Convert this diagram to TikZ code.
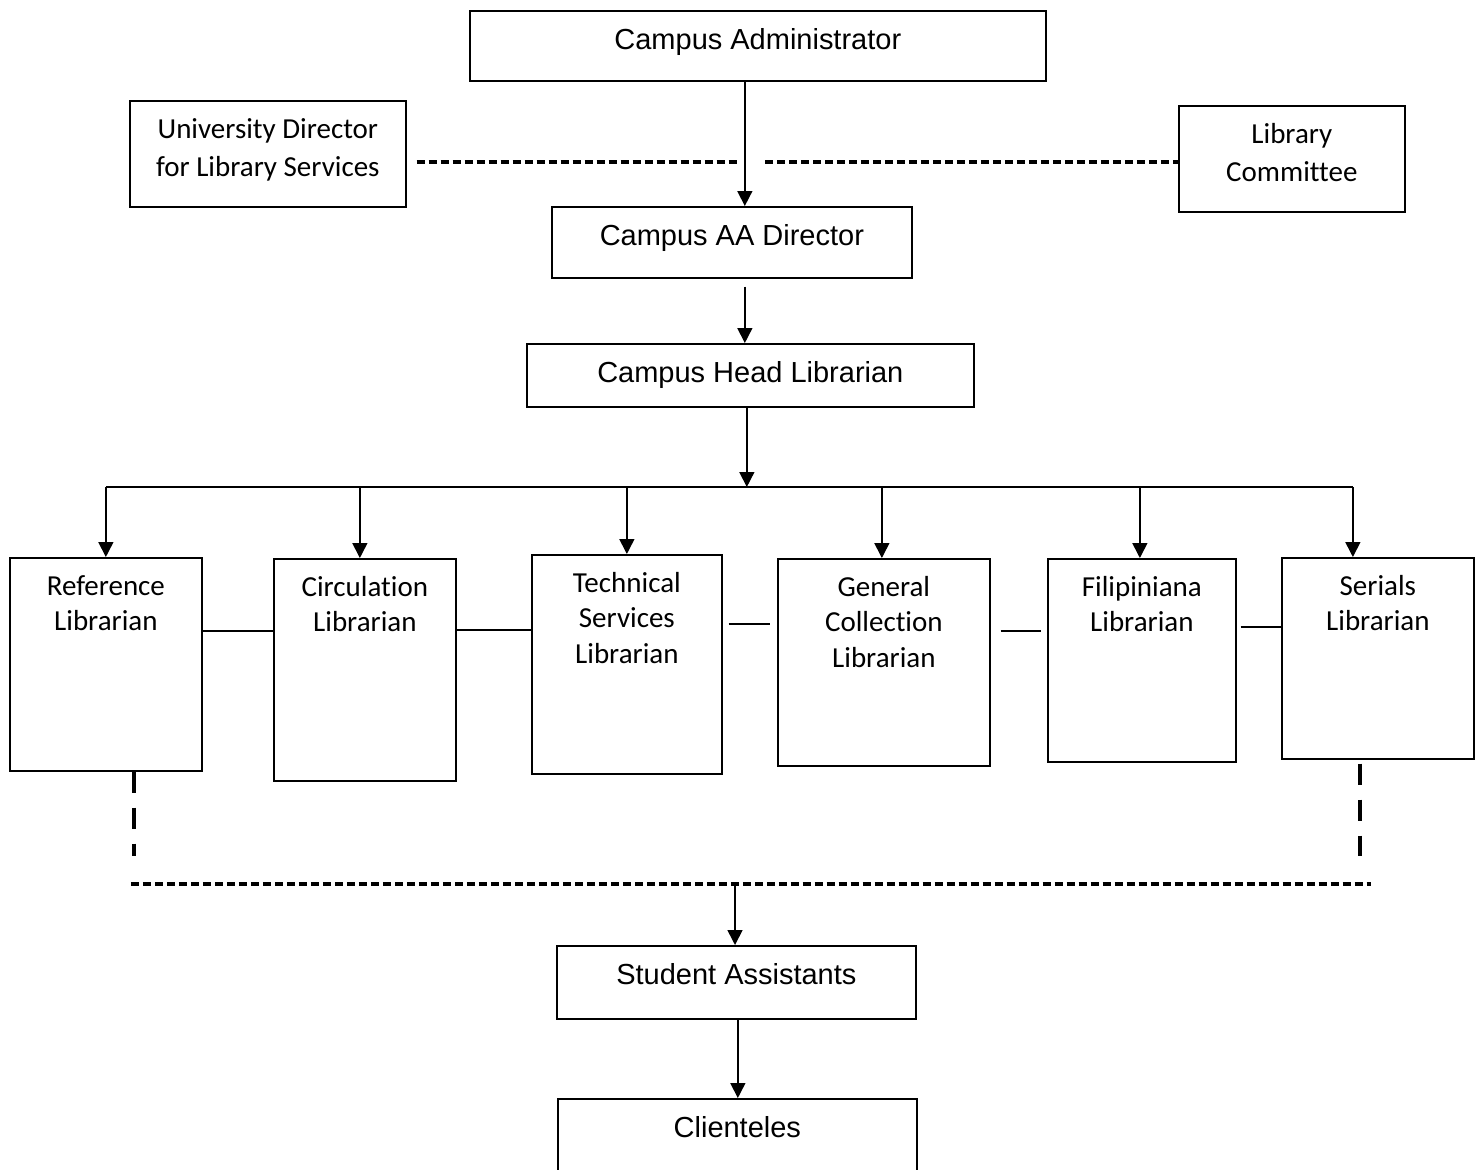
\documentclass[tikz,border=0pt]{standalone}
\usepackage{fontspec}
\setmainfont{Carlito}[Ligatures=NoCommon]
\newfontfamily\arialfont{Liberation Sans}
\usetikzlibrary{arrows.meta}

\tikzset{
    unit/.style={draw, line width=1pt, inner sep=0pt, anchor=north west},
    inlabel/.style={anchor=north, align=center, yshift=-0.25cm, inner sep=0.333em},
    arr/.style={line width=0.9pt, -{Triangle[width=0.3cm, length=0.3cm]}},
    link/.style={line width=0.9pt},
    dashline/.style={line width=2.2pt, dash pattern=on 0.16cm off 0.08cm},
    dropline/.style={line width=2.5pt, dash pattern=on 0.42cm off 0.3cm},
}

\begin{document}
\begin{tikzpicture}[x=0.02cm, y=-0.02cm, font=\fontsize{16.5}{20}\selectfont]
    \useasboundingbox (0,0) rectangle (1479,1169);

    % top of the chart
    \node[unit, minimum width=11.52cm, minimum height=1.4cm,
        label={[inlabel, font=\arialfont\fontsize{16.5}{20}\selectfont]north:Campus Administrator}] (admin) at (469,10) {};
    \node[unit, minimum width=5.52cm, minimum height=2.12cm,
        label={[inlabel, font=\fontsize{16.5}{21.6}\selectfont]north:University Director\\for Library Services}] (udir) at (129,100) {};
    \node[unit, minimum width=4.52cm, minimum height=2.12cm,
        label={[inlabel, font=\fontsize{16.5}{21.6}\selectfont]north:Library\\Committee}] (lcom) at (1178,105) {};
    \node[unit, minimum width=7.2cm, minimum height=1.42cm,
        label={[inlabel, font=\arialfont\fontsize{16.5}{20}\selectfont]north:Campus AA Director}] (aadir) at (551,206) {};
    \node[unit, minimum width=8.94cm, minimum height=1.26cm,
        label={[inlabel, font=\arialfont\fontsize{16.5}{20}\selectfont]north:Campus Head Librarian}] (head) at (526,343) {};

    \draw[arr] ([xshift=-0.26cm]admin.south) -- ([xshift=-0.26cm]admin.south |- aadir.north);
    \coordinate (mid) at (744,162);
    \draw[dashline] ([xshift=0.2cm]udir.east |- mid) -- ([xshift=-0.08cm]mid);
    \draw[dashline] ([xshift=0.42cm]mid) -- (lcom.west |- mid);
    \draw[arr] ([shift={(0.26cm,-0.16cm)}]aadir.south) -- ([xshift=0.26cm]aadir.south |- head.north);

    % librarians
    \coordinate (bus) at (746,487);
    \foreach \name/\x/\y/\w/\h/\dx/\txt in {
        ref/9/557/3.84/4.26/0/{Reference\\Librarian},
        circ/273/558/3.64/4.44/-0.1/{Circulation\\Librarian},
        tech/531/554/3.8/4.38/0/{Technical\\Services\\Librarian},
        gen/777/558/4.24/4.14/-0.04/{General\\Collection\\Librarian},
        fil/1047/558/3.76/4.06/-0.04/{Filipiniana\\Librarian},
        ser/1281/557/3.84/4.02/-0.5/{Serials\\Librarian}} {
        \node[unit, minimum width=\w cm, minimum height=\h cm,
            label={[inlabel]north:\txt}] (\name) at (\x,\y) {};
        \draw[arr] ([xshift=\dx cm]\name.north |- bus) -- ([xshift=\dx cm]\name.north);
    }
    \draw[link] (ref.north |- bus) -- ([xshift=-0.5cm]ser.north |- bus);
    \draw[arr] ([xshift=-0.07cm]head.south) -- ([xshift=-0.07cm]head.south |- bus);

    \foreach \a/\b/\y/\sa/\sb in {ref/circ/631/0/0, circ/tech/630/0/0,
        tech/gen/624/0.12/0.14, gen/fil/631/0.2/0.12, fil/ser/627/0.08/0} {
        \draw[link, shorten <=\sa cm, shorten >=\sb cm] (\a.east |- 0,\y) -- (\b.west |- 0,\y);
    }

    % down to the student assistants
    \coordinate (refdrop) at ([xshift=0.56cm]ref.south);
    \coordinate (serdrop) at ([shift={(-0.36cm,-0.08cm)}]ser.south);
    \coordinate (join) at (735,884);
    \draw[dropline] (refdrop) -- (refdrop |- 0,856);
    \draw[dropline] (serdrop) -- (serdrop |- 0,856);
    \draw[dashline] ([xshift=-0.06cm]refdrop |- join) -- ([xshift=0.22cm]serdrop |- join);

    \node[unit, minimum width=7.18cm, minimum height=1.46cm,
        label={[inlabel, font=\arialfont\fontsize{16.5}{20}\selectfont]north:Student Assistants}] (stud) at (556,945) {};
    \node[unit, minimum width=7.18cm, minimum height=2.84cm,
        label={[inlabel, font=\arialfont\fontsize{16.5}{20}\selectfont]north:Clienteles}] (cli) at (557,1098) {};

    \draw[arr] (join) -- (join |- stud.north);
    \draw[arr] ([xshift=0.03cm]stud.south) -- ([xshift=0.03cm]stud.south |- cli.north);
\end{tikzpicture}
\end{document}
